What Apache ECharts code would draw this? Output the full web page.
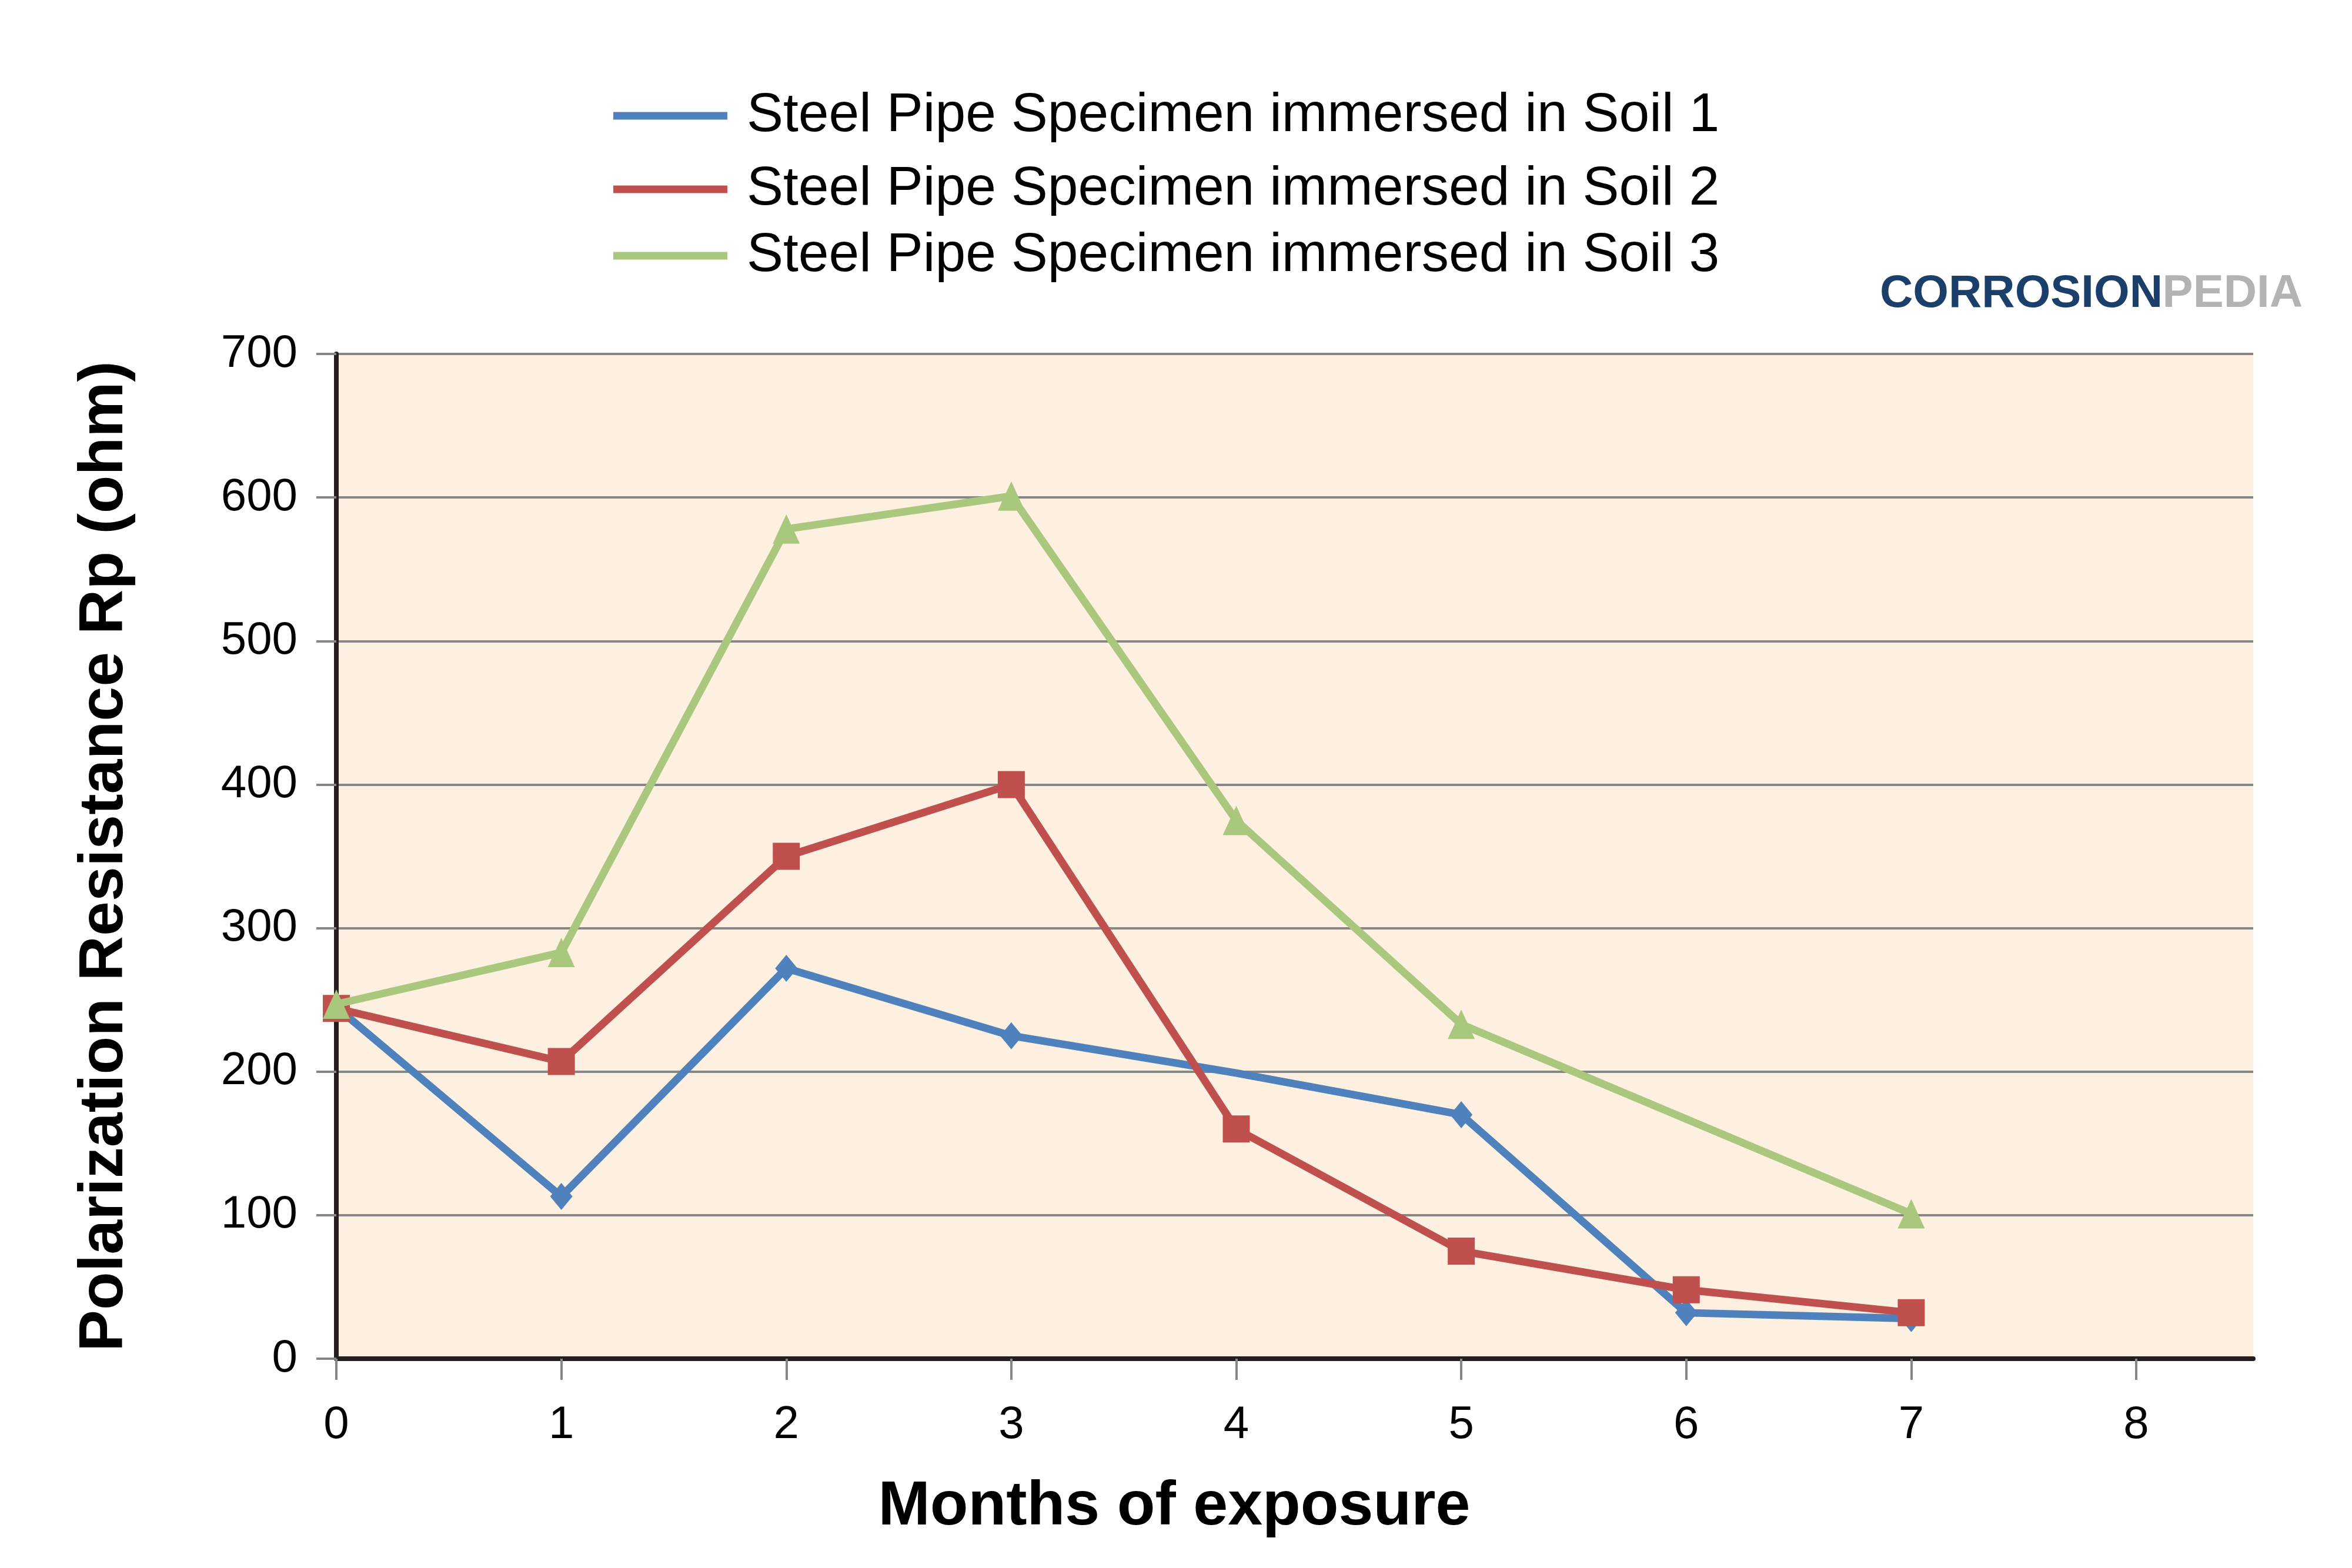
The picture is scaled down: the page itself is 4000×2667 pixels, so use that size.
<!DOCTYPE html>
<html>
<head>
<meta charset="utf-8">
<script src="https://cdn.jsdelivr.net/npm/echarts@6/dist/echarts.min.js"></script>
<style>
html,body{margin:0;padding:0;background:#fff;}
#chart{width:4000px;height:2667px;}
</style>
</head>
<body>
<div id="chart"></div>
<script>
// ---- data ----
const seriesNames = [
  'Steel Pipe Specimen immersed in Soil 1',
  'Steel Pipe Specimen immersed in Soil 2',
  'Steel Pipe Specimen immersed in Soil 3'
];
const soil1Months = [0, 1, 2, 3, 4, 5, 6, 7];
const soil1Values = [245, 113, 272, 225, 199, 170, 32, 28];
const soil1MarkerShown = [true, true, true, true, false, true, true, true];
const soil2Months = [0, 1, 2, 3, 4, 5, 6, 7];
const soil2Values = [244, 207, 350, 400, 160, 75, 48, 32];
const soil3Months = [0, 1, 2, 3, 4, 5, 7];
const soil3Values = [247, 283, 578, 601, 375, 233, 101];
const xTickValues = [0, 1, 2, 3, 4, 5, 6, 7, 8];
const xAxisTitle = 'Months of exposure';
const yAxisTitle = 'Polarization Resistance Rp (ohm)';

const FONT = '"Liberation Sans", Arial, Helvetica, sans-serif';
const colors = ['#4f81bd', '#c0504d', '#aac77e'];

function pairs(xs, ys, shown) {
  return xs.map((x, i) => {
    const item = { value: [x, ys[i]] };
    if (shown && !shown[i]) item.symbol = 'none';
    return item;
  });
}

const legendTops = [197, 322, 435];
const legends = seriesNames.map((n, i) => ({
  data: [n],
  left: 1043,
  top: legendTops[i] - 50,
  orient: 'vertical',
  padding: 0,
  icon: 'rect',
  itemWidth: 194,
  itemHeight: 13,
  selectedMode: false,
  textStyle: { fontFamily: FONT, fontSize: 93, color: '#000', lineHeight: 100, padding: [0, 0, 0, 28] }
}));

const chart = echarts.init(document.getElementById('chart'), null, { renderer: 'canvas' });
chart.setOption({
  backgroundColor: '#ffffff',
  animation: false,
  color: colors,
  legend: legends,
  grid: {
    left: 572, right: 168, top: 602, bottom: 356,
    show: true, backgroundColor: '#fdf0e1', borderWidth: 0
  },
  xAxis: {
    type: 'value', min: 0, max: 8.52, interval: 1,
    name: xAxisTitle, nameLocation: 'middle', nameGap: 200,
    nameTextStyle: { fontFamily: FONT, fontSize: 106, fontWeight: 'bold', color: '#000', padding: [0, 410, 0, 0] },
    axisLine: { show: true, onZero: false, lineStyle: { color: '#231f20', width: 8 } },
    axisTick: { show: true, length: 36, customValues: xTickValues, lineStyle: { color: '#868686', width: 4 } },
    axisLabel: { customValues: xTickValues, margin: 74, fontFamily: FONT, fontSize: 78, color: '#000' },
    splitLine: { show: false }
  },
  yAxis: {
    type: 'value', min: 0, max: 700, interval: 100,
    name: yAxisTitle, nameLocation: 'middle', nameGap: 340, nameRotate: 90,
    nameTextStyle: { fontFamily: FONT, fontSize: 106, fontWeight: 'bold', color: '#000' },
    axisLine: { show: true, lineStyle: { color: '#231f20', width: 8 } },
    axisTick: { show: true, length: 34, lineStyle: { color: '#868686', width: 4 } },
    axisLabel: { margin: 66, fontFamily: FONT, fontSize: 78, color: '#000' },
    splitLine: { show: true, lineStyle: { color: '#868686', width: 4 } }
  },
  graphic: [
    { type: 'text', x: 3678, y: 500, z: 10,
      style: { text: 'CORROSION', fill: '#1a3f6b', font: 'bold 78px ' + FONT, align: 'right', verticalAlign: 'middle' } },
    { type: 'text', x: 3916, y: 500, z: 10,
      style: { text: 'PEDIA', fill: '#b3b3b3', font: 'bold 78px ' + FONT, align: 'right', verticalAlign: 'middle' } }
  ],
  series: [
    { name: seriesNames[0], type: 'line', data: pairs(soil1Months, soil1Values, soil1MarkerShown),
      symbol: 'diamond', symbolSize: [38, 46], lineStyle: { width: 13, color: colors[0] },
      itemStyle: { color: colors[0] }, z: 2 },
    { name: seriesNames[1], type: 'line', data: pairs(soil2Months, soil2Values),
      symbol: 'rect', symbolSize: [46, 46], lineStyle: { width: 13, color: colors[1] },
      itemStyle: { color: colors[1] }, z: 3 },
    { name: seriesNames[2], type: 'line', data: pairs(soil3Months, soil3Values),
      symbol: 'triangle', symbolSize: [46, 50], lineStyle: { width: 13, color: colors[2] },
      itemStyle: { color: colors[2] }, z: 4 }
  ]
});
</script>
</body>
</html>
